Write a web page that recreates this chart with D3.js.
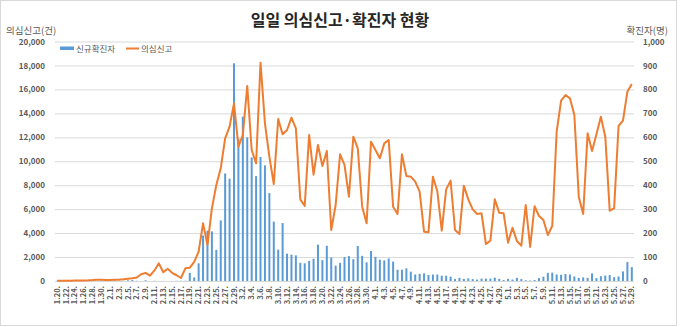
<!DOCTYPE html>
<html><head><meta charset="utf-8">
<script src="https://cdn.jsdelivr.net/npm/d3@7"></script>
<style>
html,body{margin:0;padding:0;background:#fff;}
svg{display:block;font-family:"Noto Sans CJK KR","Noto Sans",sans-serif;}
</style></head><body>
<svg id="chart" width="680" height="327"></svg>
<script>
// ---- data ----
const dates = [
"1.20.","1.21.","1.22.","1.23.","1.24.","1.25.","1.26.","1.27.","1.28.","1.29.","1.30.","1.31.",
"2.1.","2.2.","2.3.","2.4.","2.5.","2.6.","2.7.","2.8.","2.9.","2.10.","2.11.","2.12.","2.13.","2.14.","2.15.","2.16.","2.17.","2.18.","2.19.","2.20.","2.21.","2.22.","2.23.","2.24.","2.25.","2.26.","2.27.","2.28.","2.29.",
"3.1.","3.2.","3.3.","3.4.","3.5.","3.6.","3.7.","3.8.","3.9.","3.10.","3.11.","3.12.","3.13.","3.14.","3.15.","3.16.","3.17.","3.18.","3.19.","3.20.","3.21.","3.22.","3.23.","3.24.","3.25.","3.26.","3.27.","3.28.","3.29.","3.30.","3.31.",
"4.1.","4.2.","4.3.","4.4.","4.5.","4.6.","4.7.","4.8.","4.9.","4.10.","4.11.","4.12.","4.13.","4.14.","4.15.","4.16.","4.17.","4.18.","4.19.","4.20.","4.21.","4.22.","4.23.","4.24.","4.25.","4.26.","4.27.","4.28.","4.29.","4.30.",
"5.1.","5.2.","5.3.","5.4.","5.5.","5.6.","5.7.","5.8.","5.9.","5.10.","5.11.","5.12.","5.13.","5.14.","5.15.","5.16.","5.17.","5.18.","5.19.","5.20.","5.21.","5.22.","5.23.","5.24.","5.25.","5.26.","5.27.","5.28.","5.29."
];
// 의심신고 (left axis, 건)
const suspected = [
20,20,30,30,40,40,50,60,80,110,100,90,
90,100,110,140,190,230,290,560,680,450,880,1475,730,1030,680,480,250,1060,1110,1600,2450,4815,3006,6067,8016,9407,11912,12887,14835,
11217,12191,16283,10939,9825,18231,13165,10381,8100,13527,12248,12609,13638,12748,6819,6263,12191,8878,11356,9603,10855,4259,6346,10576,9700,7042,12052,11078,6207,4815,11635,
10939,10245,11495,11774,6207,5595,10576,8768,8712,8295,7459,4120,4064,8712,7500,4203,7654,8379,4259,3925,7960,6819,5984,5595,5650,3090,3368,6819,5706,5650,
3201,4453,3340,2950,6346,2840,6250,5428,5094,3841,4593,12470,15058,15531,15253,13861,7042,5595,12330,10855,12248,13722,12052,5873,6067,12943,13388,15809,16450
];
// 신규확진자 (right axis, 명)
const confirmed = [
1,0,0,0,1,0,1,1,0,0,2,5,
1,3,0,1,3,4,1,0,3,0,1,0,0,0,0,1,1,1,34,15,74,190,210,207,130,253,449,427,909,
595,686,600,516,438,518,483,367,248,131,242,114,110,107,76,74,84,93,152,87,147,98,64,76,100,104,91,146,105,78,125,
101,89,86,94,81,47,47,53,39,27,30,32,25,27,27,22,22,18,8,13,9,11,8,6,10,10,10,14,9,4,
9,6,13,8,3,2,4,12,18,34,35,27,26,29,27,19,13,15,13,32,12,20,23,25,16,19,40,79,58
];
const leftTicks = [0,2000,4000,6000,8000,10000,12000,14000,16000,18000,20000];
const rightTicks = [0,100,200,300,400,500,600,700,800,900,1000];
const xTickLabels = dates.filter((d,i)=>i%2===0);
const title = "일일 의심신고·확진자 현황";
const leftTitle = "의심신고(건)";
const rightTitle = "확진자(명)";
const seriesNames = ["신규확진자","의심신고"];

// ---- layout ----
const W = 680, H = 327;
const plot = {left:55, right:634, top:41.5, bottom:281};
const svg = d3.select("#chart");
svg.append("rect").attr("x",0.5).attr("y",0.5).attr("width",W-4).attr("height",H-2)
  .attr("fill","#fff").attr("stroke","#d9d9d9");

const x = d3.scaleBand().domain(dates).range([plot.left, plot.right]).paddingInner(0.55).paddingOuter(0.27);
const yL = d3.scaleLinear().domain([0,20000]).range([plot.bottom, plot.top]);
const yR = d3.scaleLinear().domain([0,1000]).range([plot.bottom, plot.top]);
const cx = d => x(d) + x.bandwidth()/2;

// gridlines
const grid = svg.append("g").attr("transform",`translate(${plot.left},0)`)
  .call(d3.axisLeft(yL).tickValues(leftTicks).tickSize(-(plot.right-plot.left)).tickFormat(""));
grid.select(".domain").remove();
grid.selectAll("line").attr("stroke","#d9d9d9").attr("stroke-width",1);

// left axis labels
const gl = svg.append("g").attr("transform",`translate(${plot.left-10},0)`)
  .call(d3.axisLeft(yL).tickValues(leftTicks).tickSize(0).tickPadding(0).tickFormat(d3.format(",")));
gl.select(".domain").remove();
gl.selectAll("text").attr("font-size",8).attr("font-weight","bold").attr("fill","#595959")
  .attr("font-family","'Noto Sans CJK KR',sans-serif");

// right axis labels
const gr = svg.append("g").attr("transform",`translate(${plot.right+9},0)`)
  .call(d3.axisRight(yR).tickValues(rightTicks).tickSize(0).tickPadding(0).tickFormat(d3.format(",")));
gr.select(".domain").remove();
gr.selectAll("text").attr("font-size",8).attr("font-weight","bold").attr("fill","#595959")
  .attr("font-family","'Noto Sans CJK KR',sans-serif");

// bars
svg.append("g").selectAll("rect").data(dates).join("rect")
  .attr("x", d=>x(d)).attr("width", x.bandwidth())
  .attr("y", (d,i)=>yR(confirmed[i])).attr("height",(d,i)=>plot.bottom-yR(confirmed[i]))
  .attr("fill","#5b9bd5");

// line
const line = d3.line().x((d,i)=>cx(dates[i])).y(d=>yL(d));
svg.append("path").datum(suspected).attr("d",line)
  .attr("fill","none").attr("stroke","#ed7d31").attr("stroke-width",2).attr("stroke-linejoin","round");

// x axis
const gx = svg.append("g").attr("transform",`translate(0,${plot.bottom})`)
  .call(d3.axisBottom(x).tickValues(xTickLabels).tickSize(0));
gx.select(".domain").remove();
gx.selectAll("text").attr("transform","rotate(-90)").attr("text-anchor","end")
  .attr("x",-5).attr("y",0).attr("dy","0.35em")
  .attr("font-size",7.5).attr("font-weight","bold").attr("fill","#595959")
  .attr("font-family","'Noto Sans CJK KR',sans-serif");

// titles
svg.append("text").attr("x",340).attr("y",26).attr("text-anchor","middle")
  .attr("font-size",16).attr("font-weight","bold").attr("fill","#262626").text(title);
svg.append("text").attr("x",6).attr("y",34).attr("font-size",9.5).attr("fill","#595959").text(leftTitle);
svg.append("text").attr("x",668).attr("y",34).attr("text-anchor","end").attr("font-size",9.5).attr("fill","#595959").text(rightTitle);

// legend
const lg = svg.append("g");
lg.append("rect").attr("x",60).attr("y",46.5).attr("width",14).attr("height",3.5).attr("fill","#5b9bd5");
lg.append("text").attr("x",76).attr("y",52).attr("font-size",8.5).attr("fill","#595959").text(seriesNames[0]);
lg.append("line").attr("x1",126).attr("x2",139).attr("y1",48.5).attr("y2",48.5).attr("stroke","#ed7d31").attr("stroke-width",2);
lg.append("text").attr("x",141).attr("y",52).attr("font-size",8.5).attr("fill","#595959").text(seriesNames[1]);
</script>
</body></html>
